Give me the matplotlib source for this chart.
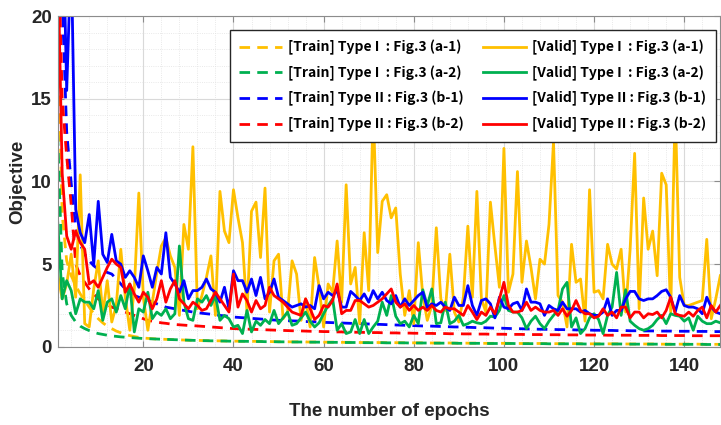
import numpy as np
import matplotlib
matplotlib.use("Agg")
import matplotlib.pyplot as plt
from matplotlib.ticker import MultipleLocator

# ---- data ----
epochs = np.arange(1, 149)

train_a1 = [19.5, 8.0, 5.2, 4.3, 3.7, 3.2, 2.8, 2.4, 2.0, 1.7,
            1.45, 1.25, 1.1, 0.95, 0.85, 0.75, 0.68, 0.62, 0.57, 0.53,
            0.51, 0.49, 0.47, 0.46, 0.45, 0.44, 0.43, 0.42, 0.41, 0.40,
            0.39, 0.39, 0.38, 0.37, 0.37, 0.36, 0.36, 0.35, 0.35, 0.34,
            0.34, 0.34, 0.33, 0.33, 0.33, 0.32, 0.32, 0.32, 0.31, 0.31,
            0.31, 0.30, 0.30, 0.30, 0.30, 0.29, 0.29, 0.29, 0.29, 0.28,
            0.28, 0.28, 0.28, 0.27, 0.27, 0.27, 0.27, 0.26, 0.26, 0.26,
            0.26, 0.26, 0.25, 0.25, 0.25, 0.25, 0.25, 0.24, 0.24, 0.24,
            0.24, 0.24, 0.23, 0.23, 0.23, 0.23, 0.23, 0.23, 0.22, 0.22,
            0.22, 0.22, 0.22, 0.22, 0.21, 0.21, 0.21, 0.21, 0.21, 0.21,
            0.21, 0.20, 0.20, 0.20, 0.20, 0.20, 0.20, 0.20, 0.19, 0.19,
            0.19, 0.19, 0.19, 0.19, 0.19, 0.19, 0.18, 0.18, 0.18, 0.18,
            0.18, 0.18, 0.18, 0.18, 0.18, 0.17, 0.17, 0.17, 0.17, 0.17,
            0.17, 0.17, 0.17, 0.17, 0.16, 0.16, 0.16, 0.16, 0.16, 0.16,
            0.16, 0.16, 0.16, 0.15, 0.15, 0.15, 0.15, 0.15]

train_a2 = [12.8, 4.5, 2.6, 1.9, 1.5, 1.25, 1.1, 0.98, 0.88, 0.8,
            0.75, 0.7, 0.66, 0.63, 0.6, 0.58, 0.56, 0.54, 0.52, 0.5,
            0.49, 0.48, 0.47, 0.46, 0.45, 0.44, 0.43, 0.42, 0.41, 0.40,
            0.39, 0.38, 0.37, 0.37, 0.36, 0.36, 0.35, 0.35, 0.34, 0.34,
            0.33, 0.33, 0.33, 0.32, 0.32, 0.32, 0.31, 0.31, 0.31, 0.30,
            0.30, 0.30, 0.29, 0.29, 0.29, 0.29, 0.28, 0.28, 0.28, 0.28,
            0.27, 0.27, 0.27, 0.27, 0.26, 0.26, 0.26, 0.26, 0.25, 0.25,
            0.25, 0.25, 0.25, 0.24, 0.24, 0.24, 0.24, 0.24, 0.23, 0.23,
            0.23, 0.23, 0.23, 0.22, 0.22, 0.22, 0.22, 0.22, 0.22, 0.21,
            0.21, 0.21, 0.21, 0.21, 0.21, 0.20, 0.20, 0.20, 0.20, 0.20,
            0.20, 0.20, 0.19, 0.19, 0.19, 0.19, 0.19, 0.19, 0.19, 0.18,
            0.18, 0.18, 0.18, 0.18, 0.18, 0.18, 0.18, 0.17, 0.17, 0.17,
            0.17, 0.17, 0.17, 0.17, 0.17, 0.17, 0.16, 0.16, 0.16, 0.16,
            0.16, 0.16, 0.16, 0.16, 0.16, 0.15, 0.15, 0.15, 0.15, 0.15,
            0.15, 0.15, 0.15, 0.15, 0.14, 0.14, 0.14, 0.14]

train_b1 = [45, 21, 13, 9.9, 7.2, 6.2, 5.6, 5.2, 4.9, 4.7,
            4.6, 4.5, 4.4, 4.1, 3.8, 3.5, 3.3, 3.1, 3.0, 2.9,
            2.8, 2.7, 2.6, 2.5, 2.4, 2.35, 2.3, 2.25, 2.2, 2.15,
            2.1, 2.07, 2.03, 2.0, 1.97, 1.94, 1.9, 1.87, 1.84, 1.8,
            1.78, 1.76, 1.74, 1.72, 1.7, 1.68, 1.66, 1.64, 1.62, 1.6,
            1.59, 1.58, 1.57, 1.56, 1.55, 1.53, 1.52, 1.51, 1.5, 1.48,
            1.47, 1.46, 1.45, 1.44, 1.43, 1.42, 1.41, 1.4, 1.39, 1.38,
            1.37, 1.36, 1.35, 1.34, 1.33, 1.32, 1.31, 1.3, 1.29, 1.28,
            1.27, 1.26, 1.26, 1.25, 1.24, 1.23, 1.22, 1.21, 1.2, 1.2,
            1.19, 1.18, 1.17, 1.16, 1.16, 1.15, 1.14, 1.13, 1.13, 1.12,
            1.11, 1.1, 1.1, 1.09, 1.08, 1.08, 1.07, 1.06, 1.06, 1.05,
            1.05, 1.04, 1.04, 1.03, 1.03, 1.02, 1.02, 1.01, 1.01, 1.0,
            1.0, 0.99, 0.99, 0.99, 0.98, 0.98, 0.98, 0.97, 0.97, 0.97,
            0.96, 0.96, 0.96, 0.95, 0.95, 0.95, 0.95, 0.94, 0.94, 0.94,
            0.94, 0.93, 0.93, 0.93, 0.93, 0.92, 0.92, 0.92]

train_b2 = [26, 15, 11.5, 8.6, 5.0, 4.3, 3.9, 3.5, 3.2, 2.9,
            2.7, 2.55, 2.4, 2.3, 2.2, 2.1, 2.0, 1.9, 1.8, 1.7,
            1.6, 1.55, 1.5, 1.45, 1.42, 1.38, 1.35, 1.33, 1.31, 1.29,
            1.28, 1.26, 1.24, 1.22, 1.2, 1.18, 1.16, 1.14, 1.12, 1.1,
            1.09, 1.08, 1.07, 1.06, 1.05, 1.04, 1.03, 1.02, 1.01, 1.0,
            0.99, 0.98, 0.97, 0.97, 0.96, 0.95, 0.94, 0.94, 0.93, 0.92,
            0.92, 0.91, 0.9, 0.9, 0.89, 0.89, 0.88, 0.88, 0.87, 0.87,
            0.86, 0.86, 0.85, 0.85, 0.84, 0.84, 0.83, 0.83, 0.83, 0.82,
            0.82, 0.81, 0.81, 0.81, 0.8, 0.8, 0.8, 0.79, 0.79, 0.79,
            0.78, 0.78, 0.78, 0.77, 0.77, 0.77, 0.76, 0.76, 0.76, 0.76,
            0.75, 0.75, 0.75, 0.75, 0.74, 0.74, 0.74, 0.74, 0.73, 0.73,
            0.73, 0.73, 0.72, 0.72, 0.72, 0.72, 0.72, 0.71, 0.71, 0.71,
            0.71, 0.71, 0.7, 0.7, 0.7, 0.7, 0.7, 0.7, 0.69, 0.69,
            0.69, 0.69, 0.69, 0.69, 0.68, 0.68, 0.68, 0.68, 0.68, 0.68,
            0.68, 0.67, 0.67, 0.67, 0.67, 0.67, 0.67, 0.67]

valid_a1 = [4.4, 2.9, 3.8, 5.6, 3.0, 10.4, 1.4, 1.2, 3.5, 5.2,
            2.0, 4.0, 1.5, 2.5, 5.9, 3.0, 1.0, 3.5, 9.3, 3.0,
            1.0, 2.7, 4.5, 6.1, 6.6, 5.5, 4.8, 1.9, 7.4, 5.9,
            12.1, 2.3, 3.1, 4.2, 5.5, 1.9, 9.4, 7.0, 6.3, 9.5,
            7.8, 6.3, 2.1, 8.2, 8.75, 5.4, 9.6, 2.1, 5.2, 5.6,
            1.7, 2.1, 5.2, 4.4, 1.6, 2.9, 1.2, 5.4, 3.6, 1.2,
            3.8, 3.3, 6.4, 2.7, 9.8, 3.8, 4.8, 1.4, 6.9, 3.4,
            14.5, 5.7, 8.8, 9.2, 7.8, 8.4, 4.4, 1.9, 3.4, 1.4,
            6.3, 3.1, 1.6, 2.5, 7.2, 2.9, 2.2, 5.6, 2.1, 1.5,
            3.0, 7.3, 3.0, 9.4, 2.9, 2.1, 8.75, 6.1, 3.6, 12.0,
            3.3, 4.4, 10.6, 3.9, 6.4, 4.8, 2.9, 5.3, 5.0, 7.4,
            12.4, 3.1, 2.7, 1.2, 6.2, 3.9, 4.1, 1.55, 9.5, 3.3,
            3.4, 2.9, 6.2, 5.0, 4.7, 5.9, 2.1, 5.9, 11.7, 2.3,
            9.0, 5.9, 7.0, 4.3, 10.5, 9.8, 2.1, 14.5, 4.2, 2.5,
            2.5, 2.6, 2.7, 2.8, 6.5, 1.7, 2.9, 4.3]

valid_a2 = [7.6, 2.9, 4.0, 3.4, 2.0, 2.9, 2.7, 2.7, 2.3, 3.4,
            1.6, 2.7, 2.9, 2.1, 3.1, 2.3, 3.8, 0.9, 2.3, 2.1,
            3.3, 1.7, 2.1, 1.9, 2.3, 1.7, 2.0, 6.1, 2.7, 1.7,
            1.6, 2.9, 2.7, 3.1, 2.5, 3.1, 1.6, 1.9, 1.7, 1.2,
            1.3, 0.8, 2.2, 0.9, 1.55, 1.3, 1.65, 1.4, 2.2, 1.4,
            1.75, 2.1, 1.3, 1.4, 1.75, 2.1, 1.55, 1.2, 1.45, 2.0,
            2.5, 2.9, 1.0, 1.4, 0.8, 0.9, 1.65, 0.8, 1.65, 0.8,
            1.2, 1.55, 2.7, 1.9, 3.1, 1.85, 1.4, 1.55, 1.2, 1.9,
            1.4, 3.45, 2.5, 3.5, 1.4, 1.45, 2.7, 1.4, 1.55, 1.9,
            1.3, 1.4, 1.55, 1.45, 1.4, 1.55, 1.85, 1.8, 2.2, 3.1,
            2.2, 2.1, 2.1, 1.75, 1.1, 1.55, 1.85, 1.4, 1.1, 1.55,
            1.9, 2.2, 3.5, 3.9, 1.2, 1.75, 0.8, 1.1, 1.75, 2.0,
            1.65, 0.8, 1.9, 2.4, 4.5, 1.9, 3.45, 1.55, 1.3, 1.1,
            1.0, 1.1, 1.3, 1.65, 1.9, 1.4, 2.0, 1.9, 1.85, 1.55,
            1.75, 1.0, 1.85, 1.55, 1.4, 1.4, 1.55, 1.45]

valid_b1 = [45, 28, 15.5, 24, 8.3, 6.9, 6.3, 8.0, 5.0, 8.8,
            5.6, 5.1, 6.8, 5.2, 5.0, 4.2, 4.6, 4.2, 3.6, 5.5,
            4.6, 3.6, 4.8, 4.4, 6.9, 4.2, 3.8, 3.3, 4.0, 2.9,
            3.4, 3.4, 3.6, 4.1, 3.5, 3.3, 2.7, 3.6, 2.3, 4.6,
            4.0, 4.0, 3.3, 4.1, 3.1, 4.2, 2.9, 3.3, 4.1, 3.0,
            2.8, 2.6, 2.4, 2.5, 2.6, 2.4, 2.5, 2.3, 3.7, 2.9,
            3.3, 3.1, 3.4, 2.4, 2.4, 3.35, 3.1, 2.8, 3.2, 2.7,
            3.4, 2.9, 3.3, 2.8, 2.6, 3.1, 2.4, 2.9, 2.5, 2.8,
            3.1, 3.3, 2.35, 2.6, 2.5, 2.7, 2.4, 2.2, 3.0, 2.5,
            2.5, 3.7, 2.5, 1.9, 2.8, 2.9, 2.6, 1.75, 3.0, 2.4,
            2.3, 2.6, 2.7, 2.2, 3.5, 2.7, 2.7, 2.6, 1.9, 2.5,
            2.3, 2.2, 2.7, 2.3, 2.3, 2.3, 2.1, 2.2, 2.0, 1.9,
            1.9, 2.1, 2.9, 1.9, 2.2, 2.2, 2.9, 3.35, 3.35, 2.9,
            2.8, 2.9, 2.9, 3.1, 3.35, 3.45, 3.0, 2.1, 3.1, 2.5,
            2.4, 2.4, 2.3, 2.0, 3.0, 2.4, 2.1, 2.0]

valid_b2 = [24, 10.5, 6.7, 5.9, 7.0, 6.3, 5.9, 3.8, 4.0, 3.6,
            4.2, 4.8, 5.3, 5.0, 4.8, 3.3, 3.8, 3.2, 2.7, 3.3,
            3.0, 2.3, 2.9, 4.0, 2.7, 3.5, 4.0, 2.9, 2.6, 2.3,
            2.7, 2.5, 2.2, 2.3, 2.8, 3.3, 2.9, 2.5, 2.1, 4.4,
            2.4, 3.2, 2.8, 2.1, 2.8, 2.3, 2.5, 3.6, 3.1, 2.9,
            2.7, 2.4, 2.1, 2.0, 1.9, 2.9, 2.3, 1.65, 1.9, 2.5,
            2.4, 2.8, 3.8, 2.0, 2.2, 2.2, 2.8, 2.8, 2.6, 2.4,
            2.5, 2.7, 2.9, 3.2, 3.5, 2.7, 2.4, 2.6, 2.2, 2.5,
            2.2, 2.4, 2.2, 2.5, 2.2, 2.1, 2.4, 2.3, 2.3, 2.1,
            1.9, 2.5, 2.1, 1.65, 2.1, 1.9, 2.4, 2.0, 2.9, 3.9,
            2.5, 2.1, 2.1, 2.2, 2.7, 2.2, 2.4, 2.2, 2.1, 2.1,
            2.2, 1.9, 2.3, 1.85, 2.2, 2.8, 2.2, 2.0, 2.0, 1.75,
            1.85, 2.3, 1.9, 2.1, 1.75, 2.4, 2.4, 1.75, 2.1, 2.1,
            1.75, 2.0, 1.95, 2.1, 1.75, 2.2, 3.0, 2.0, 1.9, 1.85,
            2.1, 1.85, 2.2, 2.4, 1.75, 2.5, 2.1, 2.5]

labels_train = ["[Train] Type I  : Fig.3 (a-1)", "[Train] Type I  : Fig.3 (a-2)",
                "[Train] Type II : Fig.3 (b-1)", "[Train] Type II : Fig.3 (b-2)"]
labels_valid = ["[Valid] Type I  : Fig.3 (a-1)", "[Valid] Type I  : Fig.3 (a-2)",
                "[Valid] Type II : Fig.3 (b-1)", "[Valid] Type II : Fig.3 (b-2)"]
colors = ["#FFC000", "#00B050", "#0000FF", "#FF0000"]

# ---- figure ----
plt.rcParams['font.family'] = ['Liberation Sans', 'DejaVu Sans']
fig = plt.figure(figsize=(7.21, 4.25), dpi=100)
ax = fig.add_axes([0.080, 0.184, 0.919, 0.778])

dash = (0, (3.8, 2.6))
lw = 2.0
train = [train_a1, train_a2, train_b1, train_b2]
valid = [valid_a1, valid_a2, valid_b1, valid_b2]

# train curves (dashed) then validation curves (solid)
for y, c, lab in zip(train, colors, labels_train):
    ax.plot(epochs, y, color=c, lw=lw, linestyle=dash, label=lab)
for y, c, lab in zip(valid, colors, labels_valid):
    ax.plot(epochs, y, color=c, lw=lw, linestyle='-', label=lab)

ax.set_xlim(1, 148)
ax.set_ylim(0, 20)
ax.xaxis.set_major_locator(MultipleLocator(20))
ax.xaxis.set_minor_locator(MultipleLocator(4))
ax.yaxis.set_major_locator(MultipleLocator(5))
ax.yaxis.set_minor_locator(MultipleLocator(1))

ax.grid(which='major', color='#d9d9d9', lw=0.8)
ax.grid(which='minor', color='#e2e2e2', lw=0.6, linestyle=':')
ax.set_axisbelow(True)

for s in ax.spines.values():
    s.set_color('#8c8c8c')
ax.tick_params(which='major', direction='in', length=4, color='#8c8c8c',
               top=True, right=True, labelsize=13.5, labelcolor='#262626')
ax.tick_params(axis='x', which='major', pad=8)
ax.tick_params(axis='y', which='major', pad=4)
ax.tick_params(which='minor', length=0)
for t in ax.get_xticklabels() + ax.get_yticklabels():
    t.set_fontweight('bold')

ax.set_xlabel("The number of epochs", fontsize=13.5, fontweight='bold', color='#262626', labelpad=20)
ax.set_ylabel("Objective", fontsize=13.5, fontweight='bold', color='#262626', labelpad=4)

leg = ax.legend(ncol=2, loc='upper right', bbox_to_anchor=(0.993, 0.958), borderaxespad=0,
                prop={'family': ['Noto Sans CJK KR', 'DejaVu Sans'], 'weight': 'bold', 'size': 10},
                handlelength=3.1, handletextpad=0.4, columnspacing=1.4, labelspacing=0.75,
                borderpad=0.7, fancybox=False, framealpha=1)
leg.get_frame().set_edgecolor('#262626')
leg.get_frame().set_linewidth(1.0)

fig.savefig("out.png", dpi=100)
